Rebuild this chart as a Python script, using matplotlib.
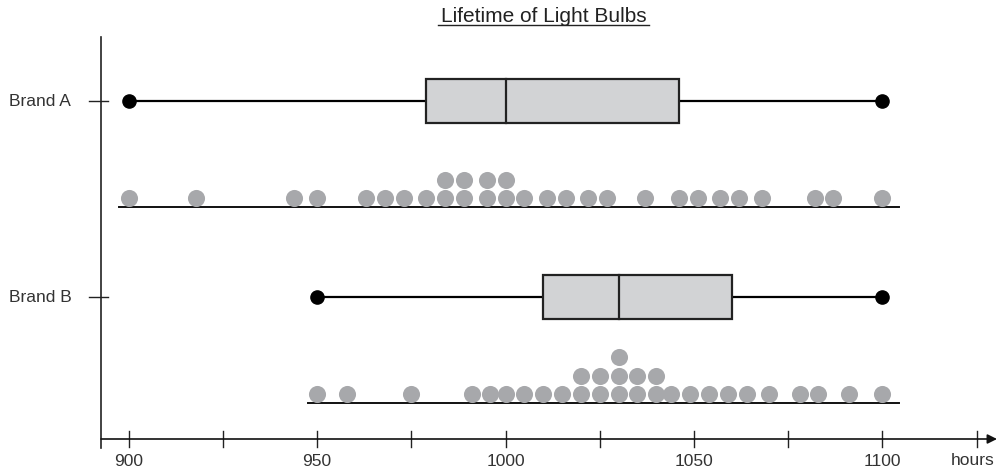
import numpy as np
import matplotlib.pyplot as plt

# lifetimes (hours)
brand_a = [900, 918, 944, 950, 963, 968, 973, 979, 984, 984, 989, 989, 995, 995,
           1000, 1000, 1005, 1011, 1016, 1022, 1027, 1037, 1046, 1051, 1057,
           1062, 1068, 1082, 1087, 1100]
brand_b = [950, 958, 975, 991, 996, 1000, 1005, 1010, 1015, 1020, 1020, 1025, 1025,
           1030, 1030, 1030, 1035, 1035, 1040, 1040, 1044, 1049, 1054, 1059, 1064,
           1070, 1078, 1083, 1091, 1100]

# five number summaries (min, q1, median, q3, max)
summary_a = [900, 979, 1000, 1046, 1100]
summary_b = [950, 1010, 1030, 1060, 1100]

brands = ["Brand A", "Brand B"]
ticks = [900, 925, 950, 975, 1000, 1025, 1050, 1075, 1100, 1125]
labelled = [900, 950, 1000, 1050, 1100]

plt.rcParams['font.family'] = ['Liberation Sans', 'DejaVu Sans']

W, H = 997, 477
fig = plt.figure(figsize=(W / 100, H / 100), dpi=100)
ax = fig.add_axes([0, 0, 1, 1])
# pixel mapping: 900 h at x=128.5, 3.77 px per hour
ppu = 3.77
x0 = 900 - 128.5 / ppu
ax.set_xlim(x0, x0 + W / ppu)
ax.set_ylim(H, 0)
ax.axis('off')

def px(p):
    return x0 + p / ppu

dot_col = '#a7a8ab'
box_col = '#d2d3d5'
txt_col = '#333333'

# axes
y_ax = px(101)
ax.plot([y_ax, y_ax], [38, 449], color='#222222', lw=1.2)
ax.annotate('', xy=(px(997), 440), xytext=(y_ax, 440),
            arrowprops=dict(arrowstyle='-|>', color='#111111', lw=1.2,
                            mutation_scale=14, shrinkA=0, shrinkB=0))
for t in ticks:
    ax.plot([t, t], [432, 448], color='#222222', lw=1)
for t in labelled:
    ax.text(t, 462, str(t), ha='center', va='center', fontsize=12.5, color=txt_col)
ax.text(px(973), 461, "hours", ha='center', va='center', fontsize=12.5, color=txt_col)

rows = [(102, 208, summary_a, brand_a), (298, 404, summary_b, brand_b)]
for name, (yb, yd, s, data) in zip(brands, rows):
    ax.plot([px(89), px(108)], [yb, yb], color='#222222', lw=1)
    ax.text(px(9), yb + 4, name, ha='left', va='baseline', fontsize=12.5, color=txt_col)
    # whiskers
    ax.plot([s[0], s[1]], [yb, yb], color='black', lw=1.6, zorder=2)
    ax.plot([s[3], s[4]], [yb, yb], color='black', lw=1.6, zorder=2)
    ax.plot([s[0], s[4]], [yb, yb], 'o', color='black', ms=9.5, zorder=3)
    ax.add_patch(plt.Rectangle((s[1], yb - 22), s[3] - s[1], 44, facecolor=box_col,
                               edgecolor='#222222', lw=1.6, zorder=2))
    ax.plot([s[2], s[2]], [yb - 22, yb + 22], color='#222222', lw=1.6, zorder=3)
    # dot plot, repeated values stack upward
    seen = {}
    xs, ys = [], []
    for v in data:
        k = seen.get(v, 0)
        seen[v] = k + 1
        xs.append(v)
        ys.append(yd - 9 - k * 18.5)
    ax.plot(xs, ys, 'o', color=dot_col, ms=12.3, mec='none', zorder=2)
    ax.plot([min(data) - 2.5, 1104.5], [yd, yd], color='#111111', lw=1.4, zorder=1)

ax.text(px(543.5), 22, "Lifetime of Light Bulbs", ha='center', va='baseline',
        fontsize=15, color='#222222')
ax.plot([px(438), px(649)], [26, 26], color='#222222', lw=1)

fig.savefig('out.png', dpi=100)
